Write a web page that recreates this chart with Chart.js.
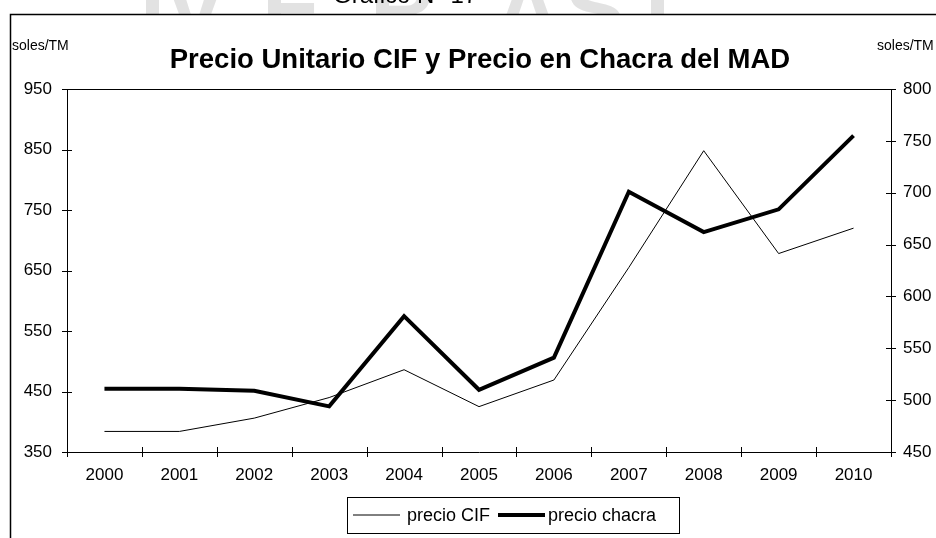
<!DOCTYPE html>
<html>
<head>
<meta charset="utf-8">
<script src="https://cdn.jsdelivr.net/npm/chart.js@4"></script>
<style>
  html, body { margin: 0; padding: 0; background: #fff; }
  #wrap { width: 936px; height: 538px; }
</style>
</head>
<body>
<div id="wrap"><canvas id="myChart" width="936" height="538"></canvas></div>
<script>
const years = ['2000', '2001', '2002', '2003', '2004', '2005', '2006', '2007', '2008', '2009', '2010'];
const precioCIF = [384, 384, 406, 440, 486, 425, 469, 655, 848, 678, 720];      // eje izquierdo
const precioChacra = [511, 511, 509, 494, 581, 510, 541, 701, 662, 684, 755];   // eje derecho
const leftTicks = [350, 450, 550, 650, 750, 850, 950];
const rightTicks = [450, 500, 550, 600, 650, 700, 750, 800];

const chartTitle = 'Precio Unitario CIF y Precio en Chacra del MAD';
const unitLabel = 'soles/TM';
const FONT = '"Liberation Sans", Arial, sans-serif';

// Marco, marca de agua, titulo, ticks cruzados y leyenda con caja
const decor = {
    id: 'decor',
    beforeDraw(chart) {
        const ctx = chart.ctx;
        ctx.save();
        ctx.fillStyle = '#fff';
        ctx.fillRect(0, 0, chart.width, chart.height);
        // marca de agua (casi toda recortada)
        ctx.fillStyle = '#e2e2e2';
        ctx.font = 'bold 90px ' + FONT;
        ctx.textBaseline = 'alphabetic';
        [['I', 140], ['V', 165], ['E', 262], ['R', 370], ['A', 495], ['S', 565], ['I', 645]].forEach(([ch, x]) => {
            ctx.fillText(ch, x, 40);
        });
        // texto "Gráfico" cortado arriba
        ctx.fillStyle = '#000';
        ctx.font = '24px ' + FONT;
        ctx.fillText('Gráfico N° 17', 333, 3);
        // interior blanco del marco
        ctx.fillStyle = '#fff';
        ctx.fillRect(10, 14, chart.width, chart.height);
        ctx.strokeStyle = '#000';
        ctx.lineWidth = 1.5;
        ctx.beginPath();
        ctx.moveTo(10.5, chart.height);
        ctx.lineTo(10.5, 14.5);
        ctx.lineTo(chart.width, 14.5);
        ctx.stroke();
        ctx.restore();
    },
    afterDraw(chart) {
        const ctx = chart.ctx;
        const area = chart.chartArea;
        const x = chart.scales.x, yl = chart.scales.y, yr = chart.scales.y1;
        ctx.save();
        ctx.strokeStyle = '#000';
        ctx.lineWidth = 1;
        ctx.beginPath();
        // borde superior del area
        ctx.moveTo(area.left, Math.round(area.top) + 0.5);
        ctx.lineTo(area.right, Math.round(area.top) + 0.5);
        // ticks cruzados
        yl.ticks.forEach(t => {
            const py = Math.round(yl.getPixelForValue(t.value)) + 0.5;
            ctx.moveTo(area.left - 5, py); ctx.lineTo(area.left + 5, py);
        });
        yr.ticks.forEach(t => {
            const py = Math.round(yr.getPixelForValue(t.value)) + 0.5;
            ctx.moveTo(area.right - 5, py); ctx.lineTo(area.right + 5, py);
        });
        const step = x.getPixelForTick(1) - x.getPixelForTick(0);
        for (let i = 0; i <= years.length; i++) {
            const px = Math.round(x.getPixelForTick(0) - step / 2 + i * step) + 0.5;
            ctx.moveTo(px, area.bottom - 5); ctx.lineTo(px, area.bottom + 5);
        }
        ctx.stroke();

        // titulo y unidades
        ctx.fillStyle = '#000';
        ctx.textBaseline = 'middle';
        ctx.font = 'bold 27.5px ' + FONT;
        ctx.textAlign = 'center';
        ctx.fillText(chartTitle, 480, 60);
        ctx.font = '14px ' + FONT;
        ctx.textAlign = 'left';
        ctx.fillText(unitLabel, 12, 46);
        ctx.fillText(unitLabel, 877, 46);

        // leyenda
        ctx.lineWidth = 1;
        ctx.strokeRect(347.5, 497.5, 332, 36);
        const ly = 515;
        ctx.font = '18px ' + FONT;
        ctx.textAlign = 'left';
        chart.data.datasets.forEach((ds, i) => {
            const x0 = i === 0 ? 353 : 498;
            ctx.strokeStyle = ds.borderColor;
            ctx.lineWidth = ds.borderWidth;
            ctx.beginPath();
            ctx.moveTo(x0, ly); ctx.lineTo(x0 + 47, ly);
            ctx.stroke();
            ctx.fillText(ds.label, x0 + (i === 0 ? 54 : 50), ly + 1);
        });
        ctx.restore();
    }
};

const tickFont = { family: FONT, size: 17 };

const config = {
    type: 'line',
    data: {
        labels: years,
        datasets: [
            {
                label: 'precio CIF',
                data: precioCIF,
                yAxisID: 'y',
                borderColor: '#000',
                borderWidth: 1,
                pointRadius: 0,
                tension: 0,
                fill: false
            },
            {
                label: 'precio chacra',
                data: precioChacra,
                yAxisID: 'y1',
                borderColor: '#000',
                borderWidth: 4,
                pointRadius: 0,
                tension: 0,
                fill: false
            }
        ]
    },
    options: {
        responsive: false,
        animation: false,
        layout: { padding: { top: 89, left: 0, right: 0, bottom: 0 } },
        scales: {
            x: {
                offset: true,
                grid: { display: false, offset: true },
                border: { display: true, color: '#000', width: 1 },
                ticks: { color: '#000', font: tickFont, padding: 5, maxRotation: 0 },
                afterFit: s => { s.height = 86; }
            },
            y: {
                position: 'left',
                min: 350,
                max: 950,
                afterBuildTicks: s => { s.ticks = leftTicks.map(v => ({ value: v })); },
                grid: { display: false },
                border: { display: true, color: '#000', width: 1 },
                ticks: { color: '#000', font: tickFont, padding: 7 },
                afterFit: s => { s.width = 67; }
            },
            y1: {
                position: 'right',
                min: 450,
                max: 800,
                afterBuildTicks: s => { s.ticks = rightTicks.map(v => ({ value: v })); },
                grid: { display: false },
                border: { display: true, color: '#000', width: 1 },
                ticks: { color: '#000', font: tickFont, padding: 4 },
                afterFit: s => { s.width = 45; }
            }
        },
        plugins: {
            legend: { display: false },
            tooltip: { enabled: false }
        }
    },
    plugins: [decor]
};

const myChart = new Chart(document.getElementById('myChart'), config);
</script>
</body>
</html>
